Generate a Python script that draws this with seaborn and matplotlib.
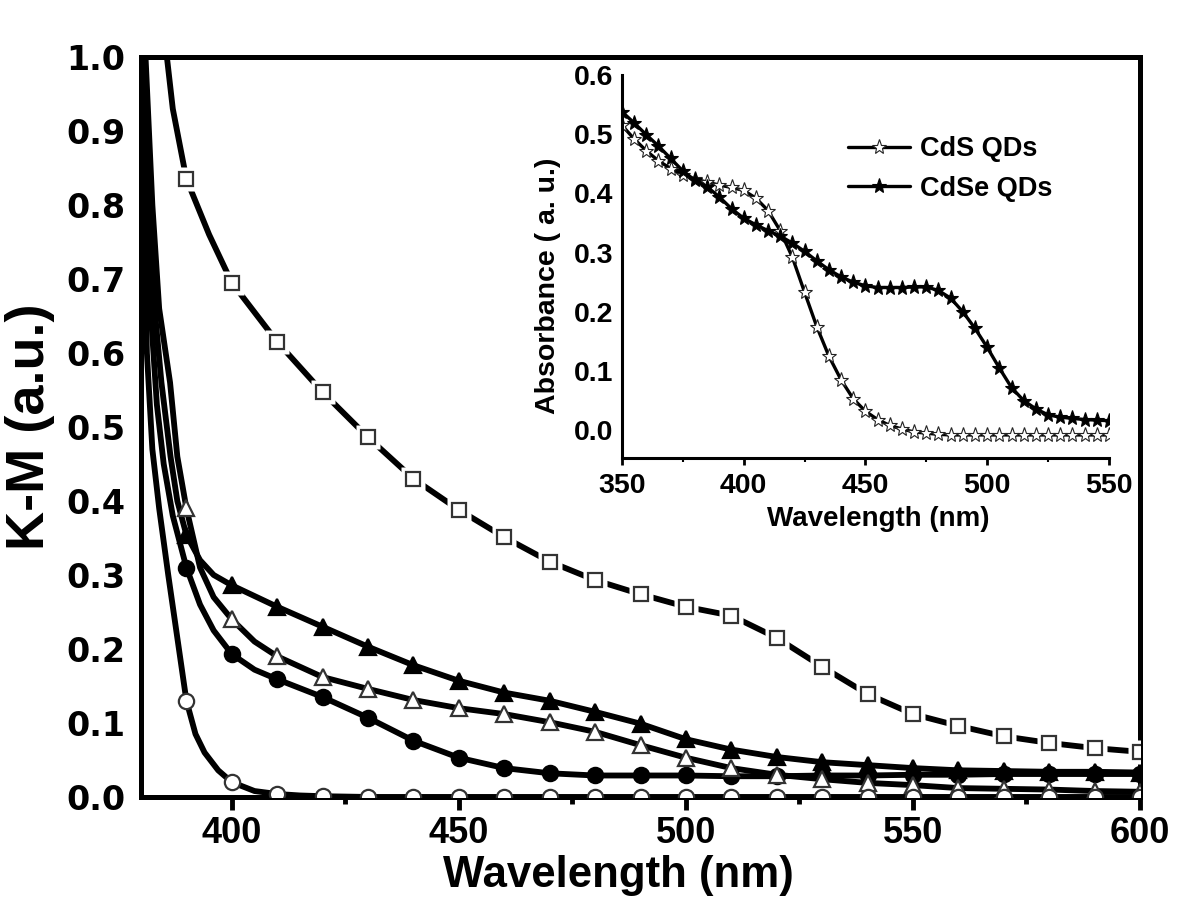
import numpy as np
import matplotlib
matplotlib.use("Agg")
import matplotlib.pyplot as plt
import seaborn as sns
from matplotlib.ticker import MultipleLocator, FormatStrFormatter

# ---- main panel: K-M curves (wavelength in nm) ----
sq_x = [385.7, 387, 390, 395, 400, 410, 420, 430, 440, 450, 460, 470, 480, 490, 500,
        510, 520, 530, 540, 550, 560, 570, 580, 590, 600]
sq_y = [1.0, 0.93, 0.835, 0.76, 0.695, 0.615, 0.547, 0.486, 0.43, 0.388, 0.351, 0.318,
        0.293, 0.274, 0.257, 0.245, 0.215, 0.176, 0.139, 0.112, 0.096, 0.082, 0.073,
        0.066, 0.061]

ftri_x = [380.7, 381.8, 383, 384.5, 386.5, 388, 390, 393, 396, 400, 410, 420, 430, 440,
          450, 460, 470, 480, 490, 500, 510, 520, 530, 540, 550, 560, 570, 580, 590, 600]
ftri_y = [1.0, 0.8, 0.66, 0.56, 0.46, 0.40, 0.354, 0.32, 0.30, 0.286, 0.257, 0.23, 0.203,
          0.178, 0.157, 0.141, 0.13, 0.115, 0.099, 0.078, 0.064, 0.054, 0.047, 0.043,
          0.039, 0.036, 0.035, 0.034, 0.034, 0.033]

otri_x = [381, 382.5, 384, 386.4, 388, 390, 393, 396, 400, 405, 410, 420, 430, 440, 450,
          460, 470, 480, 490, 500, 510, 520, 530, 540, 550, 560, 570, 580, 590, 600]
otri_y = [1.0, 0.8, 0.66, 0.56, 0.46, 0.39, 0.31, 0.27, 0.24, 0.21, 0.19, 0.162, 0.146,
          0.131, 0.12, 0.112, 0.101, 0.088, 0.07, 0.053, 0.039, 0.03, 0.024, 0.019,
          0.016, 0.012, 0.011, 0.01, 0.008, 0.007]

fcir_x = [380.5, 381.3, 382.2, 383.5, 385, 387, 390, 393, 396, 400, 405, 410, 420, 430,
          440, 450, 460, 470, 480, 490, 500, 510, 520, 530, 540, 550, 560, 570, 580, 590, 600]
fcir_y = [1.0, 0.8, 0.65, 0.53, 0.45, 0.38, 0.31, 0.26, 0.225, 0.193, 0.172, 0.159, 0.135,
          0.107, 0.076, 0.053, 0.039, 0.032, 0.029, 0.029, 0.029, 0.028, 0.028, 0.029,
          0.029, 0.03, 0.03, 0.031, 0.031, 0.031, 0.031]

ocir_x = [380.2, 380.7, 381.3, 382.5, 384, 386, 388, 390, 392, 394, 397, 400, 405, 410,
          415, 420, 430, 440, 450, 460, 470, 480, 490, 500, 510, 520, 530, 540, 550, 560,
          570, 580, 590, 600]
ocir_y = [1.0, 0.78, 0.6, 0.47, 0.39, 0.30, 0.215, 0.13, 0.085, 0.06, 0.036, 0.02, 0.008,
          0.004, 0.002, 0.001, 0, 0, 0, 0, 0, 0, 0, 0, 0, 0, 0, 0, 0, 0, 0, 0, 0, 0]

# ---- inset: absorbance ----
ins_x = list(range(350, 555, 5))
cds_y = [0.515, 0.492, 0.472, 0.455, 0.442, 0.431, 0.424, 0.419, 0.414, 0.41, 0.405,
         0.392, 0.371, 0.337, 0.292, 0.233, 0.175, 0.125, 0.085, 0.053, 0.032, 0.018,
         0.008, 0.002, -0.003, -0.005, -0.007, -0.008, -0.008, -0.008, -0.008, -0.008,
         -0.008, -0.008, -0.008, -0.008, -0.008, -0.008, -0.008, -0.008, -0.008]
cdse_y = [0.538, 0.519, 0.499, 0.48, 0.459, 0.438, 0.422, 0.411, 0.394, 0.374, 0.358,
          0.347, 0.337, 0.328, 0.316, 0.302, 0.286, 0.271, 0.259, 0.25, 0.244, 0.241,
          0.241, 0.241, 0.242, 0.242, 0.236, 0.223, 0.2, 0.172, 0.14, 0.105, 0.072,
          0.05, 0.036, 0.026, 0.022, 0.02, 0.018, 0.017, 0.016]

sns.set_style("white")
plt.rcParams.update({"text.color": "black", "axes.labelcolor": "black",
                     "xtick.color": "black", "ytick.color": "black"})
arial = ["Liberation Sans", "DejaVu Sans"]
wide = ["DejaVu Sans"]

fig = plt.figure(figsize=(12, 9.19), dpi=100)
ax = fig.add_axes([0.1175, 0.1328, 0.8325, 0.8052])


def draw(x, y, marker, face, ms, z, gap=False):
    x = np.asarray(x, float)
    y = np.asarray(y, float)
    sns.lineplot(x=x, y=y, ax=ax, color="black", lw=4.2, sort=False,
                 estimator=None, zorder=z)
    keep = (x >= 390) & (np.mod(x, 10) == 0)
    if gap:
        ax.plot(x[keep], y[keep], ls="none", marker=marker, ms=ms + 7, mfc="white",
                mec="none", zorder=z + 0.1)
    ax.plot(x[keep], y[keep], ls="none", marker=marker, ms=ms, mfc=face,
            mec="black" if face == "black" else "#333333", mew=1.6, zorder=z + 0.2)


draw(ftri_x, ftri_y, "^", "black", 12, 2)
draw(fcir_x, fcir_y, "o", "black", 11, 3)
draw(otri_x, otri_y, "^", "white", 12, 4)
draw(ocir_x, ocir_y, "o", "white", 11, 5)
draw(sq_x, sq_y, "s", "white", 10, 6, gap=True)

ax.set_xlim(380, 600)
ax.set_ylim(0, 1.0)
ax.xaxis.set_major_locator(MultipleLocator(50))
ax.xaxis.set_minor_locator(MultipleLocator(25))
ax.yaxis.set_major_locator(MultipleLocator(0.1))
ax.yaxis.set_major_formatter(FormatStrFormatter("%.1f"))
for s in ax.spines.values():
    s.set_linewidth(3.6)
    s.set_color("black")
ax.tick_params(axis="x", which="major", direction="out", length=9, width=3.5, pad=5,
               bottom=True)
ax.tick_params(axis="x", which="minor", direction="out", length=5, width=3.5,
               bottom=True)
ax.tick_params(axis="y", length=0, pad=11, left=True)
for lab in ax.get_xticklabels():
    lab.set_fontfamily(arial)
    lab.set_fontsize(26)
    lab.set_fontweight("bold")
for lab in ax.get_yticklabels():
    lab.set_fontfamily(wide)
    lab.set_fontsize(24)
    lab.set_fontweight("bold")
ax.set_xlabel("Wavelength (nm)", fontsize=31.5, fontweight="bold", family=arial)
ax.xaxis.set_label_coords(0.478, -0.078)
ax.set_ylabel("K-M (a.u.)", fontsize=39, fontweight="bold", family=arial)
ax.yaxis.set_label_coords(-0.086, 0.5)

# ---- inset ----
ins = fig.add_axes([0.5183, 0.5016, 0.4058, 0.4168])
ins.patch.set_alpha(0)
sns.lineplot(x=ins_x, y=cds_y, ax=ins, color="black", lw=2.4, marker="*", ms=11,
             mfc="white", mec="#222222", mew=0.8, label="CdS QDs")
sns.lineplot(x=ins_x, y=cdse_y, ax=ins, color="black", lw=2.4, marker="*", ms=11,
             mfc="black", mec="black", mew=0.8, label="CdSe QDs")
ins.set_xlim(350, 550)
ins.set_ylim(-0.047, 0.6)
ins.xaxis.set_major_locator(MultipleLocator(50))
ins.xaxis.set_minor_locator(MultipleLocator(25))
ins.yaxis.set_major_locator(MultipleLocator(0.1))
ins.yaxis.set_major_formatter(FormatStrFormatter("%.1f"))
ins.spines["top"].set_visible(False)
ins.spines["right"].set_visible(False)
for k in ("left", "bottom"):
    ins.spines[k].set_linewidth(2.2)
    ins.spines[k].set_color("black")
ins.tick_params(axis="x", which="major", direction="out", length=5, width=2, pad=6,
                bottom=True)
ins.tick_params(axis="x", which="minor", direction="out", length=3, width=1.5,
                bottom=True)
ins.tick_params(axis="y", length=0, pad=6)
for lab in ins.get_xticklabels() + ins.get_yticklabels():
    lab.set_fontfamily(arial)
    lab.set_fontsize(20.5)
    lab.set_fontweight("bold")
ins.set_xlabel("Wavelength (nm)", fontsize=20, fontweight="bold", family=arial)
ins.xaxis.set_label_coords(0.527, -0.125)
ins.set_ylabel("Absorbance ( a. u.)", fontsize=20.5, fontweight="bold", family=arial)
ins.yaxis.set_label_coords(-0.125, 0.449)
ins.legend(loc="upper left", bbox_to_anchor=(0.464, 0.84), frameon=False,
           prop={"family": arial, "weight": "bold", "size": 19.5},
           handlelength=2.3, handletextpad=0.36, labelspacing=0.5,
           borderaxespad=0, borderpad=0)

fig.savefig("out.png", dpi=100)
